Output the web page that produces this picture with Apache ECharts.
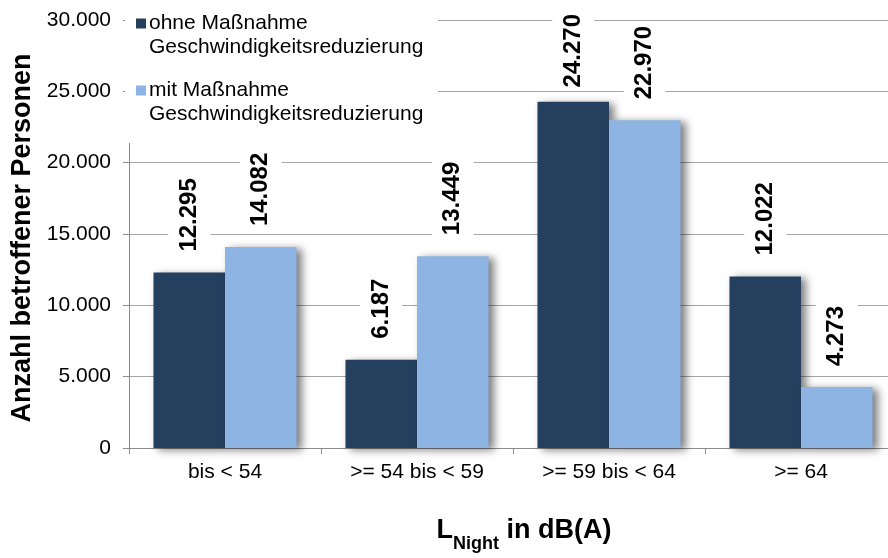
<!DOCTYPE html>
<html>
<head>
<meta charset="utf-8">
<script src="https://cdn.jsdelivr.net/npm/echarts@6/dist/echarts.min.js"></script>
<style>html,body{margin:0;padding:0;background:#fff}#c{width:888px;height:558px}</style>
</head>
<body>
<div id="c"></div>
<script>
var categories = ['bis < 54', '>= 54 bis < 59', '>= 59 bis < 64', '>= 64'];
var seriesNames = ['ohne Maßnahme Geschwindigkeitsreduzierung', 'mit Maßnahme Geschwindigkeitsreduzierung'];
var legendLines = [['ohne Maßnahme', 'Geschwindigkeitsreduzierung'], ['mit Maßnahme', 'Geschwindigkeitsreduzierung']];
var ohneValues = [12295, 6187, 24270, 12022];
var mitValues = [14082, 13449, 22970, 4273];
var yTicks = { min: 0, max: 30000, interval: 5000 };
var colors = ['#253F5E', '#8DB4E2'];

function fmt(v) {
  return String(Math.round(v)).replace(/\B(?=(\d{3})+(?!\d))/g, '.');
}
var FONT = 'Liberation Sans, Arial, sans-serif';
var LABEL_DIST = 18;
var chart = echarts.init(document.getElementById('c'), null, { renderer: 'canvas' });
var labelCfg = {
  show: true, position: 'top', rotate: 90, align: 'left', verticalAlign: 'middle',
  distance: LABEL_DIST, fontFamily: FONT, fontWeight: 'bold', fontSize: 24, color: '#000',
  backgroundColor: '#fff', padding: [9, 3, 9, 3],
  formatter: function (p) { return fmt(p.value); }
};
// keep labels inside the chart area (like the original chart does)
function keepInside(p) {
  var r = p.labelRect;
  if (r.y < 11) {
    return { y: p.rect.y - LABEL_DIST + (11 - r.y) };
  }
  return {};
}
var shadow = { shadowColor: 'rgba(0,0,0,0.5)', shadowBlur: 8, shadowOffsetX: 5, shadowOffsetY: 2 };
chart.setOption({
  animation: false,
  textStyle: { fontFamily: FONT },
  grid: { left: 129, top: 20, right: -9, bottom: 110, containLabel: false, outerBoundsMode: 'none' },
  graphic: [{ type: 'rect', z: 1, shape: { x: 125, y: 0, width: 313, height: 143 }, style: { fill: '#fff' } }],
  legend: {
    orient: 'vertical', left: 131, top: 13, padding: 0, itemGap: 22,
    itemWidth: 0, itemHeight: 0, icon: 'rect', z: 4,
    formatter: function (name) {
      var i = seriesNames.indexOf(name);
      return '{sq' + i + '|}{g|}{t|' + legendLines[i][0] + '}\n{ind|}{t|' + legendLines[i][1] + '}';
    },
    textStyle: {
      fontFamily: FONT, fontSize: 21, color: '#000',
      rich: {
        sq0: { width: 10, height: 10, backgroundColor: colors[0], verticalAlign: 'middle' },
        sq1: { width: 10, height: 10, backgroundColor: colors[1], verticalAlign: 'middle' },
        g: { width: 3 },
        ind: { width: 13 },
        t: { fontFamily: FONT, fontSize: 21, lineHeight: 24, color: '#000' }
      }
    },
    data: seriesNames
  },
  xAxis: {
    type: 'category', data: categories,
    axisLine: { lineStyle: { color: '#8c8c8c', width: 1 } },
    axisTick: { show: true, length: 6, lineStyle: { color: '#8c8c8c' } },
    axisLabel: { fontFamily: FONT, fontSize: 21, color: '#000', margin: 14 },
    name: '{l|L}{s|Night}{l| in dB(A)}', nameLocation: 'middle', nameGap: 64,
    nameTextStyle: {
      padding: [0, 0, 0, 22],
      rich: {
        l: { fontFamily: FONT, fontWeight: 'bold', fontSize: 27, color: '#000', verticalAlign: 'bottom', lineHeight: 32 },
        s: { fontFamily: FONT, fontWeight: 'bold', fontSize: 18, color: '#000', verticalAlign: 'bottom', lineHeight: 24, padding: [0, 0, -9, 0] }
      }
    }
  },
  yAxis: {
    type: 'value', min: yTicks.min, max: yTicks.max, interval: yTicks.interval,
    axisLine: { show: true, lineStyle: { color: '#8c8c8c' } },
    axisTick: { show: true, length: 6, lineStyle: { color: '#8c8c8c' } },
    axisLabel: { fontFamily: FONT, fontSize: 21, color: '#000', margin: 18, formatter: fmt },
    splitLine: { lineStyle: { color: '#a6a6a6', width: 1 } },
    name: 'Anzahl betroffener Personen', nameLocation: 'middle', nameGap: 92,
    nameTextStyle: { fontFamily: FONT, fontWeight: 'bold', fontSize: 27, color: '#000', padding: [0, 8, 0, 0] }
  },
  series: [
    { name: seriesNames[0], type: 'bar', data: ohneValues, barGap: '0%', barCategoryGap: '25.5%',
      itemStyle: Object.assign({ color: colors[0] }, shadow), label: labelCfg, labelLayout: keepInside },
    { name: seriesNames[1], type: 'bar', data: mitValues, barGap: '0%', barCategoryGap: '25.5%',
      itemStyle: Object.assign({ color: colors[1] }, shadow), label: labelCfg, labelLayout: keepInside }
  ]
});
</script>
</body>
</html>
